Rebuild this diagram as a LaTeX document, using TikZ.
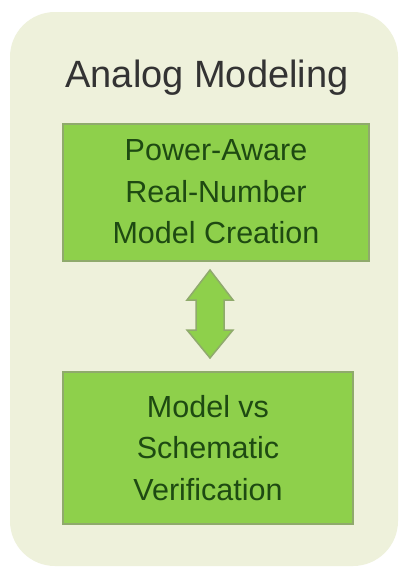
\documentclass[tikz,border=0pt]{standalone}
\usepackage{fontspec}
\setmainfont{Liberation Sans}
\definecolor{panelbg}{HTML}{EEF1DB}
\definecolor{boxgreen}{HTML}{8ED04B}
\definecolor{boxedge}{HTML}{8FAA6C}
\definecolor{boxtext}{HTML}{1E4A12}
\definecolor{titlegray}{HTML}{333333}
\begin{document}
\begin{tikzpicture}[x=1pt,y=-1pt,
	stagebox/.style={draw=boxedge, line width=2pt, fill=boxgreen, text=boxtext,
		align=center, inner sep=0pt, font=\fontsize{30.5}{41.5}\selectfont},
	linkarrow/.style={draw=boxedge, line width=1.5pt, fill=boxgreen}]
	\useasboundingbox (0,0) rectangle (405,570);
	\fill[white] (0,0) rectangle (405,570);
	\fill[panelbg, rounded corners=45pt] (10,12) rectangle (398,566);

	\node[anchor=base, text=titlegray, font=\fontsize{38}{42}\selectfont] (title) at (207,87) {Analog Modeling};

	\node[stagebox, minimum width=306pt, minimum height=137pt] (creation) at (216,192)
		{Power-Aware\\Real-Number\\Model Creation};
	\node[stagebox, minimum width=290pt, minimum height=152pt] (verify) at (208,448)
		{Model vs\\Schematic\\Verification};

	% two-headed link between the stages
	\draw[linkarrow] (210,270) -- (233,300) -- (224,300) -- (224,330) -- (233,330)
		-- (210,358) -- (187,330) -- (196,330) -- (196,300) -- (187,300) -- cycle;
\end{tikzpicture}
\end{document}
